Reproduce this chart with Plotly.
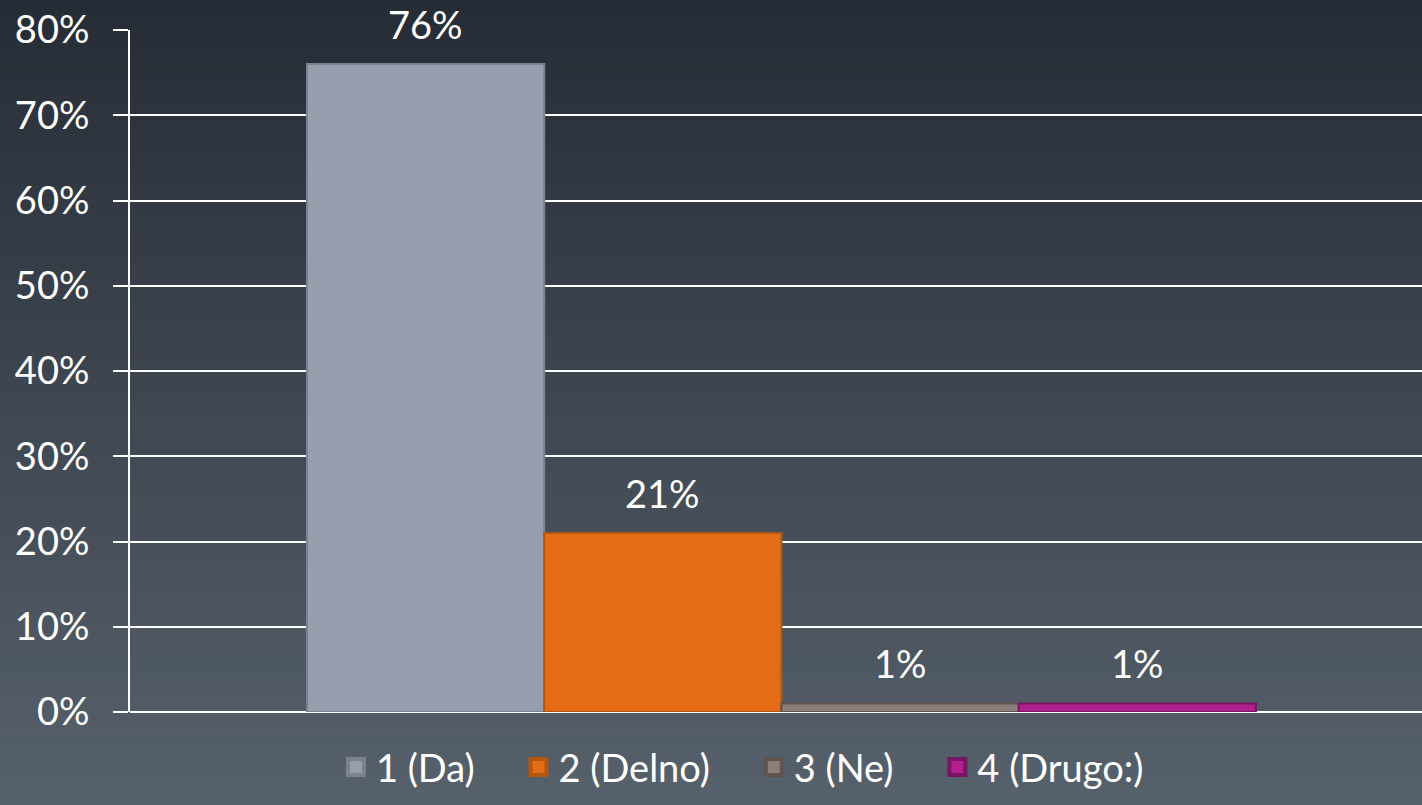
import plotly.graph_objects as go

categories = ["1 (Da)", "2 (Delno)", "3 (Ne)", "4 (Drugo:)"]
values = [76, 21, 1, 1]
colors = ["#979faf", "#e46c17", "#8c7f7a", "#b2208f"]
line_colors = ["#7a828e", "#b4560f", "#5e5450", "#7a1563"]
y_ticks = [0, 10, 20, 30, 40, 50, 60, 70, 80]
y_tick_labels = [f"{t}%" for t in y_ticks]

FONT = "Lato"
FS = 38
PAD = "\u00a0" * 4
fig = go.Figure()
for i, (c, v) in enumerate(zip(categories, values)):
    fig.add_trace(go.Bar(
        x=[i], y=[v], name=c, width=1.0, showlegend=False,
        marker=dict(color=colors[i], line=dict(color=line_colors[i], width=2)),
    ))
# legend entries with larger square symbols
for i, c in enumerate(categories):
    fig.add_trace(go.Scatter(
        x=[None], y=[None], mode="markers",
        name=c + (PAD if i < len(categories) - 1 else ""),
        marker=dict(symbol="square", size=16, color=colors[i],
                    line=dict(color=line_colors[i], width=4)),
    ))

annotations = []
for i, v in enumerate(values):
    annotations.append(dict(x=i, y=v, xref="x", yref="y", text=f"{v}%",
                            showarrow=False, yanchor="bottom", yshift=15,
                            font=dict(family=FONT, size=FS, color="white")))

# vertical gradient background via stripes
top = (0x26, 0x2c, 0x35)
bot = (0x57, 0x61, 0x6c)
n = 60
shapes = []
y0p, y1p = -93 / 682, 1 + 30 / 682
for k in range(n):
    t = (k + 0.5) / n
    col = tuple(int(round(top[j] + (bot[j] - top[j]) * t)) for j in range(3))
    ya = y1p - (y1p - y0p) * k / n
    yb = y1p - (y1p - y0p) * (k + 1) / n
    shapes.append(dict(type="rect", xref="paper", yref="paper",
                       x0=-0.2, x1=1.05, y0=yb - 0.002, y1=ya + 0.002,
                       fillcolor="rgb(%d,%d,%d)" % col, line=dict(width=0),
                       layer="below"))

fig.update_layout(
    width=1422, height=805,
    margin=dict(l=130, r=0, t=30, b=93),
    paper_bgcolor="#3c444e",
    plot_bgcolor="rgba(0,0,0,0)",
    barmode="overlay",
    showlegend=True,
    legend=dict(orientation="h", x=0.474, xanchor="center", y=-0.035, yanchor="top",
                font=dict(family=FONT, size=FS, color="white"),
                bgcolor="rgba(0,0,0,0)", itemwidth=30, traceorder="normal"),
    font=dict(family=FONT, size=FS, color="white"),
    annotations=annotations,
    shapes=shapes,
    xaxis=dict(range=[-1.246, 4.2], showticklabels=False, showgrid=False,
               zeroline=False, showline=False, ticks=""),
    yaxis=dict(range=[0, 80], tickvals=y_ticks, ticktext=y_tick_labels,
               showgrid=True, gridcolor="white", gridwidth=2,
               showline=True, linecolor="white", linewidth=2,
               ticks="outside", ticklen=15, tickcolor="white", tickwidth=2,
               ticklabelstandoff=16,
               zeroline=True, zerolinecolor="white", zerolinewidth=2,
               tickfont=dict(family=FONT, size=FS, color="white")),
)

fig.write_html("out.html", config={"displayModeBar": False},
               post_script="document.body.style.margin='0';document.body.style.overflow='hidden';")
